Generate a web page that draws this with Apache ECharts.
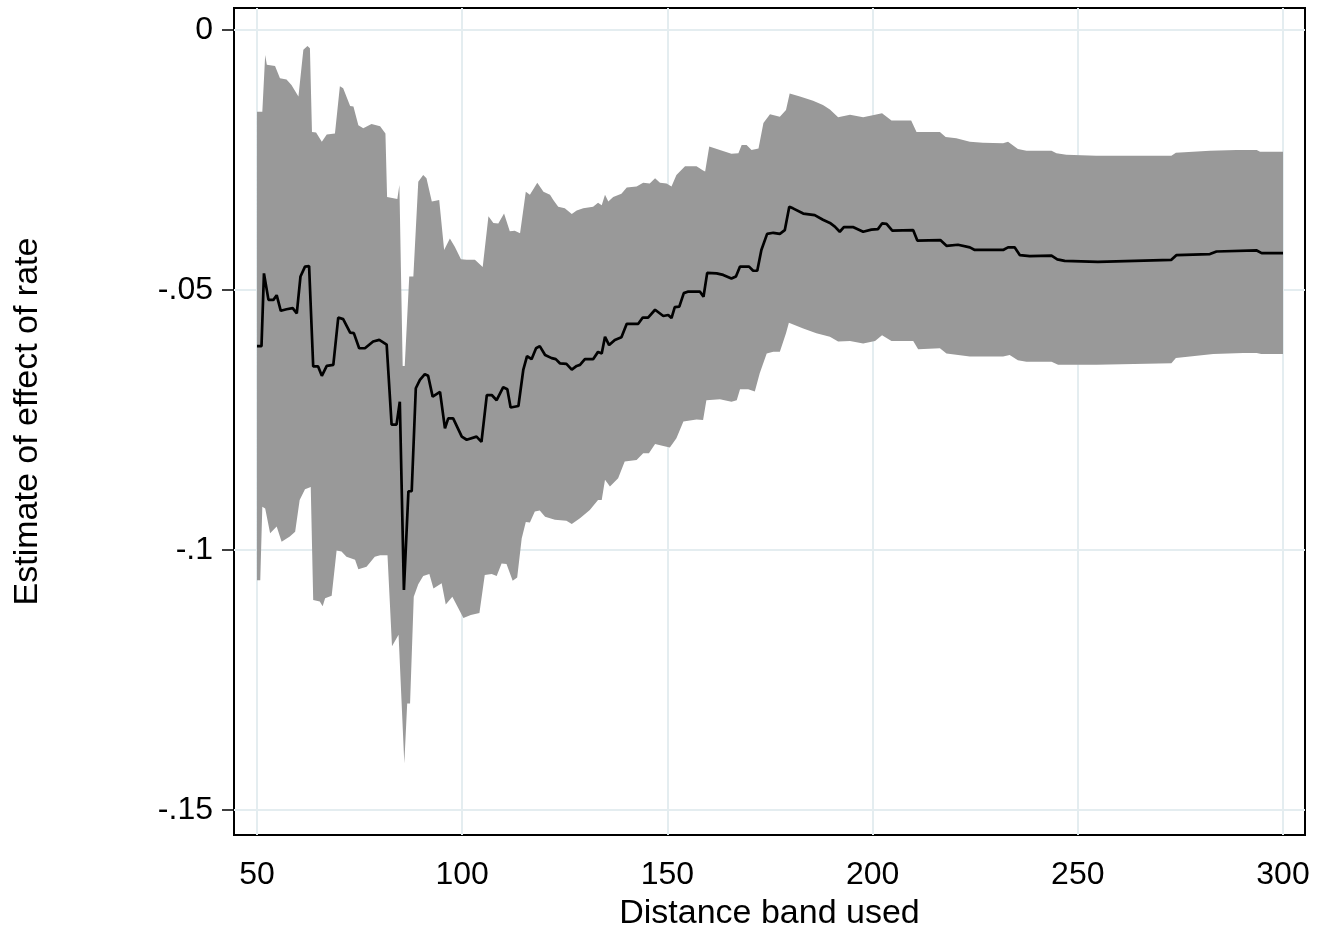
<!DOCTYPE html>
<html>
<head>
<meta charset="utf-8">
<script src="https://cdn.jsdelivr.net/npm/echarts@6/dist/echarts.min.js"></script>
<style>
  html, body { margin: 0; padding: 0; background: #fff; }
  #chart { width: 1329px; height: 926px; }
</style>
</head>
<body>
<div id="chart"></div>
<script>
// distance band used -> upper / lower CI edge and point estimate
const upperBand = [
    [50.0, -0.0157], [51.3, -0.0157], [52.0, -0.0048], [52.4, -0.0067], [54.4, -0.0069],
    [55.6, -0.0093], [57.2, -0.0095], [58.4, -0.0106], [60.1, -0.0128], [61.3, -0.0038],
    [62.3, -0.0031], [62.9, -0.0035], [63.4, -0.0196], [64.4, -0.0197], [65.8, -0.0215],
    [67.0, -0.0201], [69.0, -0.0199], [70.2, -0.0108], [71.0, -0.0112], [72.7, -0.0146],
    [73.5, -0.0147], [74.7, -0.0183], [75.9, -0.0189], [77.9, -0.0181], [80.0, -0.0185],
    [81.3, -0.0199], [81.7, -0.0321], [84.2, -0.0325], [84.7, -0.0298], [85.5, -0.0646],
    [86.0, -0.0646], [87.1, -0.0474], [88.1, -0.0474], [89.3, -0.0292], [90.5, -0.0279],
    [91.3, -0.0285], [92.6, -0.0330], [94.4, -0.0327], [95.6, -0.0423], [97.0, -0.0401],
    [98.2, -0.0417], [99.7, -0.0441], [101.1, -0.0442], [103.1, -0.0442], [105.0, -0.0456],
    [106.4, -0.0358], [107.6, -0.0371], [108.8, -0.0372], [110.2, -0.0353], [111.6, -0.0387],
    [112.8, -0.0386], [114.1, -0.0391], [115.5, -0.0311], [116.5, -0.0317], [118.3, -0.0294],
    [119.8, -0.0311], [121.4, -0.0317], [122.2, -0.0327], [123.4, -0.0340], [125.0, -0.0343],
    [126.7, -0.0354], [127.9, -0.0347], [129.5, -0.0343], [131.9, -0.0340], [133.1, -0.0332],
    [134.0, -0.0337], [134.8, -0.0317], [135.6, -0.0330], [136.8, -0.0321], [138.8, -0.0315],
    [140.1, -0.0303], [142.5, -0.0301], [144.1, -0.0294], [145.7, -0.0295], [147.0, -0.0285],
    [148.2, -0.0294], [149.8, -0.0295], [151.0, -0.0301], [152.2, -0.0279], [154.3, -0.0262],
    [157.1, -0.0262], [158.7, -0.0270], [159.2, -0.0272], [160.2, -0.0224], [162.8, -0.0231],
    [165.6, -0.0238], [167.3, -0.0237], [168.1, -0.0221], [169.3, -0.0221], [170.5, -0.0231],
    [172.2, -0.0228], [173.4, -0.0179], [175.0, -0.0162], [177.4, -0.0167], [178.9, -0.0154],
    [179.8, -0.0122], [182.3, -0.0128], [185.5, -0.0136], [187.9, -0.0144], [189.6, -0.0153],
    [191.6, -0.0168], [194.5, -0.0163], [197.7, -0.0168], [200.6, -0.0163], [202.3, -0.0160],
    [204.6, -0.0174], [209.4, -0.0174], [210.7, -0.0196], [216.4, -0.0196], [217.8, -0.0206],
    [220.4, -0.0208], [223.7, -0.0215], [226.9, -0.0217], [231.8, -0.0218], [233.0, -0.0215],
    [235.4, -0.0229], [237.5, -0.0232], [243.6, -0.0232], [244.8, -0.0237], [247.2, -0.0240],
    [254.5, -0.0242], [272.8, -0.0242], [273.9, -0.0236], [282.2, -0.0232], [288.7, -0.0231],
    [293.6, -0.0231], [294.4, -0.0234], [300.0, -0.0234]
];

const lowerBand = [
    [50.0, -0.1058], [50.8, -0.1058], [51.3, -0.0917], [52.0, -0.0920], [53.2, -0.0968],
    [54.8, -0.0955], [56.0, -0.0984], [58.0, -0.0974], [59.3, -0.0965], [60.4, -0.0904],
    [61.7, -0.0883], [63.1, -0.0879], [63.7, -0.1096], [65.3, -0.1099], [66.0, -0.1108],
    [66.6, -0.1093], [68.2, -0.1088], [69.4, -0.1001], [70.6, -0.1003], [71.8, -0.1013],
    [73.9, -0.1019], [74.7, -0.1037], [76.7, -0.1032], [78.7, -0.1013], [80.0, -0.1010],
    [81.8, -0.1010], [82.9, -0.1185], [84.5, -0.1163], [85.9, -0.1410], [86.6, -0.1295],
    [87.3, -0.1295], [88.2, -0.1090], [89.3, -0.1066], [90.5, -0.1050], [92.0, -0.1046],
    [93.0, -0.1074], [95.0, -0.1064], [96.0, -0.1105], [97.6, -0.1090], [100.3, -0.1131],
    [102.1, -0.1125], [104.2, -0.1121], [105.5, -0.1048], [107.2, -0.1046], [108.4, -0.1050],
    [109.6, -0.1026], [110.8, -0.1027], [112.3, -0.1059], [113.4, -0.1053], [114.5, -0.0978],
    [115.5, -0.0946], [116.5, -0.0947], [117.7, -0.0926], [118.9, -0.0924], [120.2, -0.0936],
    [122.6, -0.0942], [125.4, -0.0944], [126.7, -0.0950], [128.7, -0.0939], [131.1, -0.0923],
    [133.1, -0.0904], [134.0, -0.0904], [134.8, -0.0865], [136.0, -0.0878], [138.0, -0.0862],
    [139.6, -0.0830], [142.5, -0.0827], [144.1, -0.0814], [145.5, -0.0814], [147.0, -0.0796],
    [149.0, -0.0800], [150.6, -0.0803], [152.2, -0.0785], [153.9, -0.0753], [157.1, -0.0749],
    [158.7, -0.0750], [159.5, -0.0712], [162.8, -0.0710], [165.6, -0.0715], [166.9, -0.0712],
    [167.7, -0.0691], [169.7, -0.0691], [171.3, -0.0695], [172.5, -0.0660], [174.2, -0.0622],
    [175.8, -0.0619], [177.4, -0.0619], [178.9, -0.0583], [179.6, -0.0563], [183.1, -0.0574],
    [186.3, -0.0583], [189.6, -0.0590], [191.6, -0.0599], [194.5, -0.0598], [197.7, -0.0603],
    [200.6, -0.0598], [202.3, -0.0587], [204.6, -0.0598], [209.9, -0.0598], [211.1, -0.0614],
    [216.4, -0.0612], [218.0, -0.0622], [223.7, -0.0628], [231.8, -0.0628], [233.4, -0.0625],
    [235.4, -0.0635], [237.5, -0.0638], [243.6, -0.0638], [245.2, -0.0644], [254.5, -0.0644],
    [272.8, -0.0641], [273.9, -0.0631], [283.0, -0.0623], [290.3, -0.0621], [293.6, -0.0621],
    [294.7, -0.0623], [300.0, -0.0623]
];

const estimate = [
    [50.0, -0.0608], [51.1, -0.0608], [51.7, -0.0468], [52.8, -0.0519], [54.0, -0.0519],
    [54.8, -0.0510], [55.8, -0.0540], [57.2, -0.0537], [58.7, -0.0535], [59.7, -0.0545],
    [60.6, -0.0474], [61.7, -0.0455], [62.7, -0.0454], [63.7, -0.0647], [64.9, -0.0647],
    [65.8, -0.0665], [67.0, -0.0646], [68.6, -0.0644], [69.8, -0.0553], [71.0, -0.0556],
    [72.7, -0.0582], [73.6, -0.0583], [74.9, -0.0612], [76.3, -0.0612], [78.3, -0.0599],
    [79.8, -0.0596], [81.6, -0.0605], [82.8, -0.0759], [84.0, -0.0759], [84.8, -0.0715],
    [85.8, -0.1077], [86.9, -0.0887], [87.7, -0.0887], [88.7, -0.0689], [89.7, -0.0673],
    [90.9, -0.0662], [91.7, -0.0665], [92.8, -0.0705], [94.6, -0.0696], [95.8, -0.0766],
    [96.6, -0.0747], [97.8, -0.0747], [99.9, -0.0782], [101.1, -0.0788], [103.5, -0.0782],
    [104.7, -0.0792], [106.0, -0.0702], [107.2, -0.0702], [108.4, -0.0712], [110.0, -0.0687],
    [111.0, -0.0691], [111.8, -0.0726], [113.7, -0.0723], [114.9, -0.0653], [115.8, -0.0627],
    [116.9, -0.0633], [118.0, -0.0612], [118.9, -0.0608], [120.2, -0.0625], [121.8, -0.0631],
    [122.8, -0.0633], [123.8, -0.0641], [125.4, -0.0642], [126.7, -0.0653], [127.9, -0.0646],
    [128.7, -0.0644], [129.9, -0.0633], [131.9, -0.0633], [133.1, -0.0619], [134.0, -0.0622],
    [134.8, -0.0590], [135.8, -0.0606], [137.2, -0.0596], [138.8, -0.0591], [140.1, -0.0565],
    [142.9, -0.0565], [144.0, -0.0553], [145.3, -0.0553], [147.0, -0.0538], [149.0, -0.0550],
    [150.2, -0.0548], [151.0, -0.0554], [151.8, -0.0533], [152.9, -0.0532], [154.0, -0.0506],
    [155.1, -0.0503], [157.9, -0.0503], [158.8, -0.0513], [159.7, -0.0467], [162.0, -0.0468],
    [163.6, -0.0471], [165.6, -0.0478], [166.7, -0.0474], [167.7, -0.0455], [169.9, -0.0455],
    [170.9, -0.0463], [171.9, -0.0463], [172.9, -0.0423], [174.3, -0.0392], [175.8, -0.0390],
    [177.4, -0.0392], [178.6, -0.0385], [179.7, -0.0340], [180.6, -0.0343], [183.1, -0.0353],
    [185.9, -0.0356], [187.9, -0.0365], [189.6, -0.0371], [190.8, -0.0378], [192.0, -0.0388],
    [193.0, -0.0379], [195.2, -0.0379], [197.7, -0.0388], [199.7, -0.0384], [201.3, -0.0383],
    [202.3, -0.0372], [203.4, -0.0373], [204.8, -0.0386], [209.9, -0.0385], [210.9, -0.0405],
    [216.5, -0.0404], [218.0, -0.0415], [220.8, -0.0413], [223.7, -0.0418], [224.9, -0.0423],
    [231.8, -0.0423], [233.0, -0.0418], [234.6, -0.0418], [235.9, -0.0433], [238.3, -0.0435],
    [243.6, -0.0434], [245.0, -0.0441], [246.8, -0.0444], [254.9, -0.0446], [272.8, -0.0442],
    [274.0, -0.0433], [282.2, -0.0431], [283.8, -0.0426], [293.6, -0.0424], [294.8, -0.0429],
    [300.0, -0.0429]
];

const xTicks = [50, 100, 150, 200, 250, 300];
const yTicks = [0, -0.05, -0.1, -0.15];
const yTickLabels = ["0", "-.05", "-.1", "-.15"];

const FONT = "'Liberation Sans', Arial, Helvetica, sans-serif";
const GRID_COLOR = "#e4edf0";

function yLabel(v) {
    const i = yTicks.findIndex((t) => Math.abs(t - v) < 1e-9);
    return i >= 0 ? yTickLabels[i] : "";
}

function renderBand(params, api) {
    if (params.dataIndex !== 0) return;
    const top = upperBand.map((p) => api.coord(p));
    const bottom = lowerBand.slice().reverse().map((p) => api.coord(p));
    return {
        type: "polygon",
        shape: { points: top.concat(bottom) },
        style: { fill: "#999999", stroke: null },
    };
}

const chart = echarts.init(document.getElementById("chart"));
chart.setOption({
    animation: false,
    backgroundColor: "#fff",
    grid: {
        left: 234,
        right: 24,
        top: 8,
        bottom: 91,
        outerBoundsMode: "none",
        containLabel: false,
        show: true,
        borderColor: "#000",
        borderWidth: 2,
        backgroundColor: "#fff",
    },
    xAxis: {
        type: "value",
        min: 44.4,
        max: 305.36,
        name: "Distance band used",
        nameLocation: "middle",
        nameGap: 62,
        nameTextStyle: { fontFamily: FONT, fontSize: 34, color: "#000" },
        axisLine: { show: true, lineStyle: { color: "#000", width: 2 } },
        axisTick: {
            show: true,
            length: 13,
            customValues: xTicks,
            lineStyle: { color: "#000", width: 1.5 },
        },
        axisLabel: {
            customValues: xTicks,
            margin: 24,
            fontFamily: FONT,
            fontSize: 32,
            color: "#000",
        },
        splitLine: { show: false },
    },
    yAxis: {
        type: "value",
        min: -0.15481,
        max: 0.00423,
        name: "Estimate of effect of rate",
        nameLocation: "middle",
        nameGap: 189,
        nameTextStyle: { fontFamily: FONT, fontSize: 34, color: "#000" },
        axisLine: { show: true, lineStyle: { color: "#000", width: 2 } },
        axisTick: {
            show: true,
            length: 12,
            customValues: yTicks,
            lineStyle: { color: "#000", width: 1.5 },
        },
        axisLabel: {
            customValues: yTicks,
            margin: 21,
            fontFamily: FONT,
            fontSize: 32,
            color: "#000",
            formatter: yLabel,
        },
        splitLine: { show: false },
    },
    series: [
        {
            type: "custom",
            name: "band",
            z: 2,
            silent: true,
            data: [[175, -0.05]],
            renderItem: renderBand,
            markLine: {
                silent: true,
                z: 1,
                symbol: "none",
                label: { show: false },
                lineStyle: { color: GRID_COLOR, width: 2, type: "solid" },
                data: xTicks
                    .map((v) => ({ xAxis: v }))
                    .concat(yTicks.map((v) => ({ yAxis: v }))),
            },
        },
        {
            type: "line",
            name: "estimate",
            z: 3,
            data: estimate,
            showSymbol: false,
            symbol: "none",
            lineStyle: { color: "#000", width: 2.7 },
        },
    ],
});
</script>
</body>
</html>
